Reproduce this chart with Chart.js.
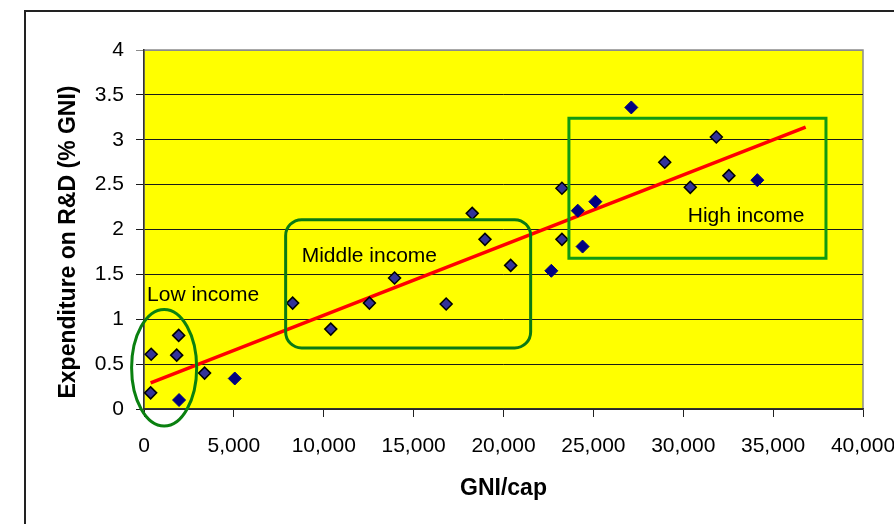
<!DOCTYPE html>
<html>
<head>
<meta charset="utf-8">
<title>R&amp;D expenditure vs GNI per capita</title>
<script src="https://cdn.jsdelivr.net/npm/chart.js@4.4.1/dist/chart.umd.min.js"></script>
<style>
  html, body { margin: 0; padding: 0; background: #fff; overflow: hidden; }
  #wrap { position: relative; width: 894px; height: 524px; }
  #frame { position: absolute; left: 24px; top: 10px; width: 1000px; height: 1000px; border: 2px solid #222; }
  #wrap canvas { position: absolute; left: 0; top: 0; }
</style>
</head>
<body>
<div id="wrap">
  <div id="frame"></div>
  <canvas id="rdChart"></canvas>
</div>
<script>
// countries, GNI per capita (US$) vs R&D spending (% of GNI)
const gniA = [370, 400, 1820, 1930, 3370, 8270, 10390, 12540, 13940, 16810, 18260, 18970, 20400, 23250, 23250, 28970, 30390, 31840, 32540];
const rdA  = [0.18, 0.61, 0.60, 0.82, 0.40, 1.18, 0.89, 1.18, 1.46, 1.17, 2.18, 1.89, 1.60, 1.89, 2.46, 2.75, 2.47, 3.03, 2.60];
const gniB = [1950, 5050, 22660, 24130, 24400, 25110, 27110, 34120];
const rdB  = [0.10, 0.34, 1.54, 2.21, 1.81, 2.31, 3.36, 2.55];

// linear trend, end points
const trendX = [370, 36810];
const trendY = [0.29, 3.14];

const xTicks = [0, 5000, 10000, 15000, 20000, 25000, 30000, 35000, 40000];
const xTickLabels = ['0', '5,000', '10,000', '15,000', '20,000', '25,000', '30,000', '35,000', '40,000'];
const yTicks = [0, 0.5, 1, 1.5, 2, 2.5, 3, 3.5, 4];
const yTickLabels = ['0', '0.5', '1', '1.5', '2', '2.5', '3', '3.5', '4'];

const groupNames = ['Low income', 'Middle income', 'High income'];

const toPoints = (xs, ys) => xs.map((x, i) => ({ x: x, y: ys[i] }));

// group outlines and captions, in data units
const groupShapes = [
  { kind: 'ellipse', cx: 1120, cy: 0.46, rx: 1810, ry: 0.65, color: '#0a8010' },
  { kind: 'rounded', x0: 7880, x1: 21510, y0: 0.68, y1: 2.11, radius: 16, color: '#0a7a14' },
  { kind: 'rect', x0: 23640, x1: 37940, y0: 1.68, y1: 3.24, color: '#119a11' }
];
const captionAt = [
  { x: 170, y: 1.2 },
  { x: 8770, y: 1.64 },
  { x: 30250, y: 2.08 }
];

const plotBackground = {
  id: 'plotBackground',
  beforeDraw(chart) {
    const { ctx, chartArea: a } = chart;
    ctx.save();
    ctx.fillStyle = '#ffff00';
    ctx.fillRect(a.left, a.top, a.right - a.left, a.bottom - a.top);
    ctx.strokeStyle = '#8c8c8c';
    ctx.lineWidth = 1.5;
    ctx.strokeRect(a.left, a.top, a.right - a.left, a.bottom - a.top);
    ctx.restore();
  }
};

const groupOverlay = {
  id: 'groupOverlay',
  afterDatasetsDraw(chart) {
    const { ctx, scales: { x, y } } = chart;
    ctx.save();
    ctx.lineWidth = 3;
    groupShapes.forEach((s) => {
      ctx.strokeStyle = s.color;
      ctx.beginPath();
      if (s.kind === 'ellipse') {
        const cx = x.getPixelForValue(s.cx);
        const cy = y.getPixelForValue(s.cy);
        const rx = x.getPixelForValue(s.cx + s.rx) - cx;
        const ry = cy - y.getPixelForValue(s.cy + s.ry);
        ctx.ellipse(cx, cy, rx, ry, 0, 0, Math.PI * 2);
      } else {
        const l = x.getPixelForValue(s.x0), r = x.getPixelForValue(s.x1);
        const t = y.getPixelForValue(s.y1), b = y.getPixelForValue(s.y0);
        if (s.kind === 'rounded') {
          ctx.roundRect(l, t, r - l, b - t, s.radius);
        } else {
          ctx.rect(l, t, r - l, b - t);
        }
      }
      ctx.stroke();
    });

    ctx.fillStyle = '#000';
    ctx.font = "21px 'Liberation Sans', Arial, sans-serif";
    ctx.textAlign = 'left';
    ctx.textBaseline = 'alphabetic';
    groupNames.forEach((name, i) => {
      ctx.fillText(name, x.getPixelForValue(captionAt[i].x), y.getPixelForValue(captionAt[i].y));
    });

    // vertical axis title
    ctx.font = "bold 23px 'Liberation Sans', Arial, sans-serif";
    ctx.textAlign = 'center';
    ctx.textBaseline = 'middle';
    ctx.translate(69, 242);
    ctx.rotate(-Math.PI / 2);
    ctx.fillText('Expenditure on R&D (% GNI)', 0, 0);
    ctx.restore();
  }
};

Chart.defaults.font.family = "'Liberation Sans', Arial, sans-serif";
Chart.defaults.color = '#000';

const ctx = document.getElementById('rdChart').getContext('2d');

new Chart(ctx, {
  type: 'scatter',
  data: {
    datasets: [
      {
        type: 'line',
        data: toPoints(trendX, trendY),
        borderColor: '#ff0000',
        borderWidth: 3.5,
        pointRadius: 0,
        fill: false,
        order: 3
      },
      {
        data: toPoints(gniA, rdA),
        pointStyle: 'rectRot',
        pointRadius: 6,
        pointHoverRadius: 6,
        backgroundColor: '#333399',
        borderColor: '#000',
        borderWidth: 1.5,
        order: 1
      },
      {
        data: toPoints(gniB, rdB),
        pointStyle: 'rectRot',
        pointRadius: 6.5,
        pointHoverRadius: 6.5,
        backgroundColor: '#000080',
        borderColor: '#000080',
        borderWidth: 1,
        order: 2
      }
    ]
  },
  options: {
    responsive: true,
    maintainAspectRatio: false,
    animation: false,
    layout: { padding: { left: 0, top: 50, right: 31, bottom: 0 } },
    plugins: {
      legend: { display: false },
      tooltip: { enabled: false }
    },
    scales: {
      x: {
        type: 'linear',
        min: 0,
        max: 40000,
        afterBuildTicks: (scale) => { scale.ticks = xTicks.map((v) => ({ value: v })); },
        afterFit: (scale) => {
          scale.height = 115;
          scale.paddingLeft = 0;
          scale.paddingRight = 0;
        },
        ticks: {
          callback: (v, i) => xTickLabels[i],
          font: { size: 21 },
          padding: 17,
          maxRotation: 0,
          autoSkip: false
        },
        grid: {
          drawOnChartArea: false,
          drawTicks: true,
          tickLength: 8,
          color: '#222',
          lineWidth: 1
        },
        border: { color: '#333', width: 1.5 },
        title: {
          display: true,
          text: 'GNI/cap',
          font: { size: 23, weight: 'bold' },
          padding: { top: 0, bottom: 22 }
        }
      },
      y: {
        type: 'linear',
        min: 0,
        max: 4,
        afterBuildTicks: (scale) => { scale.ticks = yTicks.map((v) => ({ value: v })); },
        afterFit: (scale) => {
          scale.width = 144;
          scale.paddingTop = 0;
          scale.paddingBottom = 0;
        },
        ticks: {
          callback: (v, i) => yTickLabels[i],
          font: { size: 21 },
          padding: 12
        },
        grid: {
          color: (c) => (c.tick && c.tick.value === 4 ? '#8c8c8c' : '#1a1a1a'),
          lineWidth: 1,
          tickLength: 8
        },
        border: { color: '#333', width: 1.5 }
      }
    }
  },
  plugins: [plotBackground, groupOverlay]
});
</script>
</body>
</html>
